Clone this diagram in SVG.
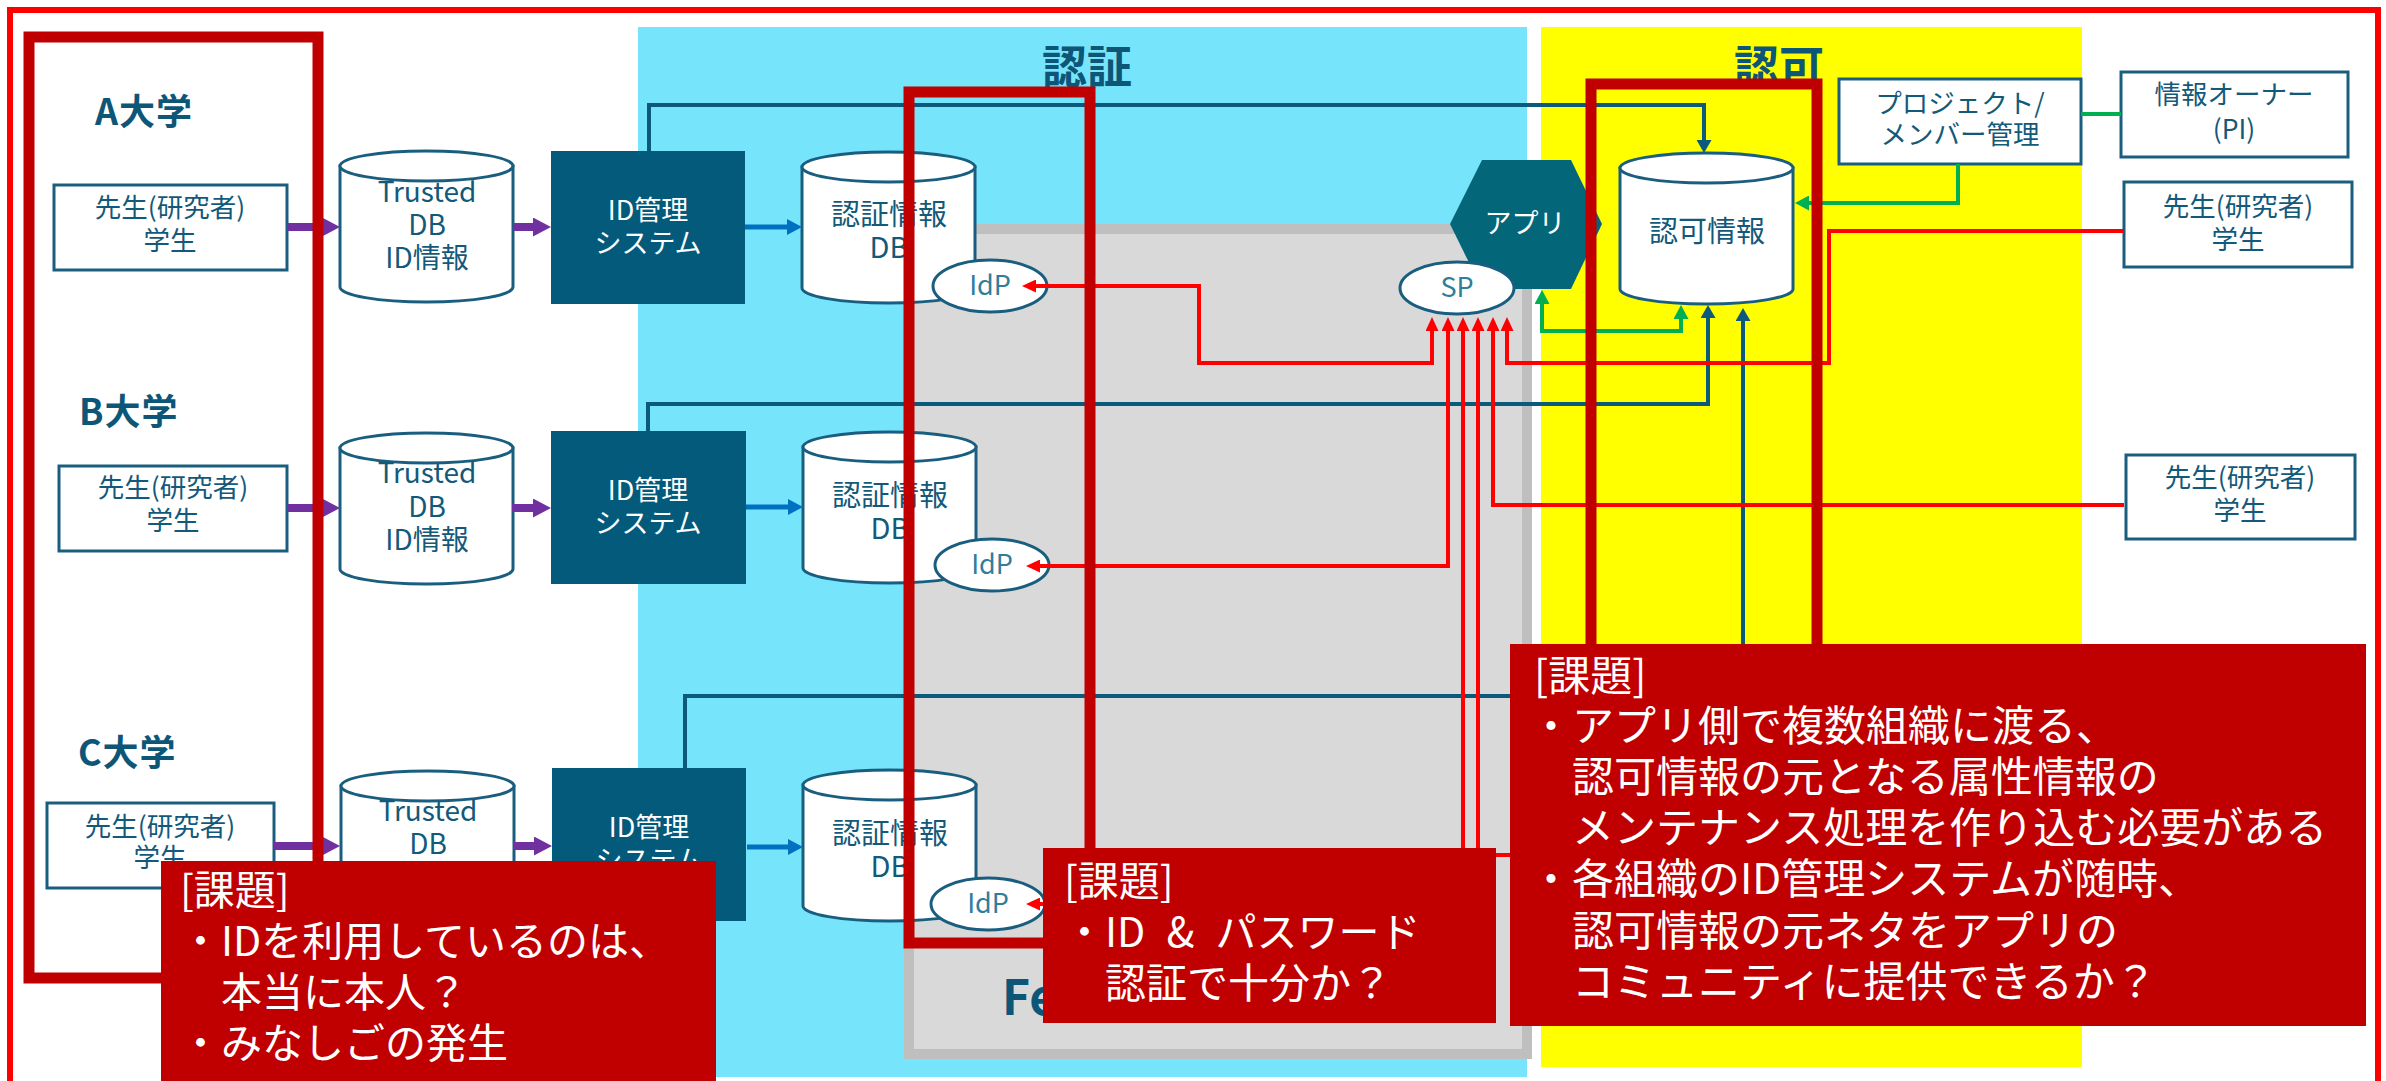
<svg xmlns="http://www.w3.org/2000/svg" width="2386" height="1081" viewBox="0 0 2386 1081">
<defs>
<style>
text{font-family:'Noto Sans CJK JP','Noto Sans',sans-serif}
.box{fill:#fff;stroke:#1a5e7f;stroke-width:3}
.cyl{fill:#fff;stroke:#1a5e7f;stroke-width:3}
.idb{fill:#035a7a}
.c{text-anchor:middle}
.tl{fill:#13597a;font-size:26.5px}
.tc{fill:#13597a;font-size:28px}
.ta{fill:#13597a;font-size:29px}
.tw{fill:#fff;font-size:27px}
.uni{fill:#0d5677;font-size:36px;font-weight:bold;letter-spacing:1px}
.ttl{fill:#0d5677;font-size:45px;font-weight:bold;text-anchor:middle}
.ell{fill:#fff;stroke:#1a5e7f;stroke-width:3}
.ep{fill:#307d9c;font-size:27px;text-anchor:middle}
.frame{fill:none;stroke:#c00000;stroke-width:11}
.issue{fill:#c00000}
.it{fill:#fff;font-size:41px}
.it2{fill:#fff;font-size:42px}
.pu{fill:none;stroke:#7030a0;stroke-width:8;marker-end:url(#mPu)}
.bl{fill:none;stroke:#0070c0;stroke-width:5;marker-end:url(#mBl)}
.db{fill:none;stroke:#0b5a7c;stroke-width:4;marker-end:url(#mDb)}
.gr{fill:none;stroke:#00b050;stroke-width:4}
.rd{fill:none;stroke:#ff0000;stroke-width:4;marker-end:url(#mRd)}
</style>
<marker id="mPu" markerUnits="userSpaceOnUse" markerWidth="18" markerHeight="19" refX="0" refY="9.5" orient="auto"><path d="M0,0 L18,9.5 L0,19 Z" fill="#7030a0"/></marker>
<marker id="mBl" markerUnits="userSpaceOnUse" markerWidth="15" markerHeight="16" refX="0" refY="8" orient="auto"><path d="M0,0 L15,8 L0,16 Z" fill="#0070c0"/></marker>
<marker id="mDb" markerUnits="userSpaceOnUse" markerWidth="13" markerHeight="15" refX="0" refY="7.5" orient="auto"><path d="M0,0 L13,7.5 L0,15 Z" fill="#0b5a7c"/></marker>
<marker id="mGr" markerUnits="userSpaceOnUse" markerWidth="14" markerHeight="15" refX="0" refY="7.5" orient="auto-start-reverse"><path d="M0,0 L14,7.5 L0,15 Z" fill="#00b050"/></marker>
<marker id="mRd" markerUnits="userSpaceOnUse" markerWidth="14" markerHeight="13" refX="0" refY="6.5" orient="auto-start-reverse"><path d="M0,0 L14,6.5 L0,13 Z" fill="#ff0000"/></marker>
<g id="cyl"><path class="cyl" d="M0,15 V136 A86.5,15 0 0 0 173,136 V15 Z"/><ellipse class="cyl" cx="86.5" cy="15" rx="86.5" ry="15"/></g>
</defs>

<!-- backgrounds -->
<g id="backgrounds">
<rect x="10" y="10" width="2368" height="1082" fill="#fff" stroke="#ff0000" stroke-width="6"/>
<rect x="638" y="27" width="889" height="1050" fill="#76e5fc"/>
<rect x="1541" y="27" width="541" height="1040" fill="#ffff00"/>
<rect x="909" y="229" width="618" height="825" fill="#d9d9d9" stroke="#bfbfbf" stroke-width="10"/>
<text x="1002" y="1015" fill="#0d5677" font-size="48" font-weight="bold">Fe</text>
<text class="ttl" x="1087" y="84">認証</text>
<text class="ttl" x="1779" y="84">認可</text>
</g>

<!-- A university -->
<g id="univA">
<text class="uni" x="95" y="125">A大学</text>
</g>
<g id="usersA">
<rect class="box" x="54" y="185" width="233" height="85"/>
<text class="tl c" x="170" y="217">先生(研究者)</text>
<text class="tl c" x="170" y="250">学生</text>
</g>
<g id="trustedA">
<use href="#cyl" x="340" y="151"/>
<text class="tc c" x="427" y="202">Trusted</text>
<text class="tc c" x="427" y="235">DB</text>
<text class="tc c" x="427" y="268">ID情報</text>
</g>
<g id="idmA">
<rect class="idb" x="551" y="151" width="194" height="153"/>
<text class="tw c" x="648" y="220">ID管理</text>
<text class="tw c" x="648" y="253">システム</text>
</g>
<g id="authA">
<use href="#cyl" x="802" y="152"/>
<text class="ta c" x="889" y="225">認証情報</text>
<text class="ta c" x="889" y="258">DB</text>
</g>
<g id="idpA">
<ellipse class="ell" cx="990" cy="286" rx="57" ry="26"/>
<text class="ep" x="990" y="295">IdP</text>
</g>

<!-- B university -->
<g id="univB">
<text class="uni" x="79" y="425">B大学</text>
</g>
<g id="usersB">
<rect class="box" x="59" y="466" width="228" height="85"/>
<text class="tl c" x="173" y="497">先生(研究者)</text>
<text class="tl c" x="173" y="530">学生</text>
</g>
<g id="trustedB">
<use href="#cyl" x="340" y="433"/>
<text class="tc c" x="427" y="483">Trusted</text>
<text class="tc c" x="427" y="517">DB</text>
<text class="tc c" x="427" y="550">ID情報</text>
</g>
<g id="idmB">
<rect class="idb" x="551" y="431" width="195" height="153"/>
<text class="tw c" x="648" y="500">ID管理</text>
<text class="tw c" x="648" y="533">システム</text>
</g>
<g id="authB">
<use href="#cyl" x="803" y="432"/>
<text class="ta c" x="890" y="506">認証情報</text>
<text class="ta c" x="890" y="539">DB</text>
</g>
<g id="idpB">
<ellipse class="ell" cx="992" cy="565" rx="57" ry="26"/>
<text class="ep" x="992" y="574">IdP</text>
</g>

<!-- C university -->
<g id="univC">
<text class="uni" x="78" y="766">C大学</text>
</g>
<g id="usersC">
<rect class="box" x="47" y="803" width="227" height="85"/>
<text class="tl c" x="160" y="836">先生(研究者)</text>
<text class="tl c" x="160" y="867">学生</text>
</g>
<g id="trustedC">
<use href="#cyl" x="341" y="771"/>
<text class="tc c" x="428" y="821">Trusted</text>
<text class="tc c" x="428" y="854">DB</text>
<text class="tc c" x="428" y="887">ID情報</text>
</g>
<g id="idmC">
<rect class="idb" x="552" y="768" width="194" height="153"/>
<text class="tw c" x="649" y="837">ID管理</text>
<text class="tw c" x="649" y="870">システム</text>
</g>
<g id="authC">
<use href="#cyl" x="803" y="770"/>
<text class="ta c" x="890" y="844">認証情報</text>
<text class="ta c" x="890" y="877">DB</text>
</g>
<g id="idpC">
<ellipse class="ell" cx="988" cy="904" rx="57" ry="26"/>
<text class="ep" x="988" y="913">IdP</text>
</g>

<!-- app side -->
<g id="app">
<polygon points="1450,224 1482,160 1571,160 1602,224 1571,289 1482,289" fill="#046679"/>
<text class="tw c" x="1525" y="233" font-size="26">アプリ</text>
</g>
<g id="sp">
<ellipse class="ell" cx="1457" cy="288" rx="57" ry="26"/>
<text class="ep" x="1457" y="297">SP</text>
</g>
<g id="authz">
<use href="#cyl" x="1620" y="153"/>
<text class="ta c" x="1707" y="242">認可情報</text>
</g>
<g id="project">
<rect class="box" x="1839" y="79" width="242" height="85"/>
<text class="tl c" x="1960" y="113" font-size="26">プロジェクト/</text>
<text class="tl c" x="1960" y="144" font-size="26">メンバー管理</text>
</g>
<g id="owner">
<rect class="box" x="2121" y="72" width="227" height="85"/>
<text class="tl c" x="2234" y="104" font-size="27.5">情報オーナー</text>
<text class="tl c" x="2234" y="139" font-size="27.5">(PI)</text>
</g>
<g id="usersR1">
<rect class="box" x="2124" y="182" width="228" height="85"/>
<text class="tl c" x="2238" y="216" font-size="27.5">先生(研究者)</text>
<text class="tl c" x="2238" y="249" font-size="27.5">学生</text>
</g>
<g id="usersR2">
<rect class="box" x="2126" y="455" width="229" height="84"/>
<text class="tl c" x="2240" y="487" font-size="27.5">先生(研究者)</text>
<text class="tl c" x="2240" y="520" font-size="27.5">学生</text>
</g>

<!-- connectors -->
<g id="connectors">
<path class="pu" d="M287,227 H322"/>
<path class="pu" d="M513,227 H533"/>
<path class="pu" d="M287,508 H322"/>
<path class="pu" d="M512,508 H533"/>
<path class="pu" d="M274,846 H322"/>
<path class="pu" d="M513,846 H534"/>
<path class="bl" d="M745,227 H787"/>
<path class="bl" d="M746,507 H788"/>
<path class="bl" d="M747,847 H788"/>
<path class="db" d="M649,151 V105 H1704 V140"/>
<path class="db" d="M648,431 V404 H1708 V318"/>
<path class="db" d="M685,768 V696 H1743 V321"/>
<path class="gr" d="M2081,114 H2121"/>
<path class="gr" d="M1958,164 V203 H1809" marker-end="url(#mGr)"/>
<path class="gr" d="M1542,304 V331 H1681 V319" marker-start="url(#mGr)" marker-end="url(#mGr)"/>
<path class="rd" d="M1036,286 H1199 V363 H1432 V331" marker-start="url(#mRd)"/>
<path class="rd" d="M1040,566 H1448 V331" marker-start="url(#mRd)"/>
<path class="rd" d="M1040,904 H1463 V331" marker-start="url(#mRd)"/>
<path class="rd" d="M2124,855 H1478 V331"/>
<path class="rd" d="M2124,505 H1493 V331"/>
<path class="rd" d="M2124,231 H1829 V363 H1507 V331"/>
</g>

<!-- highlight frames -->
<g id="frames">
<rect class="frame" x="29" y="37" width="289" height="941"/>
<rect class="frame" x="909" y="92" width="181" height="851"/>
<rect class="frame" x="1591" y="84" width="226" height="800"/>
</g>

<!-- issue boxes -->
<g id="issueLeft">
<rect class="issue" x="161" y="861" width="555" height="230"/>
<text class="it" x="180" y="905">[課題]</text>
<text class="it" x="180" y="956">・IDを利用しているのは、</text>
<text class="it" x="221" y="1007">本当に本人？</text>
<text class="it" x="180" y="1058">・みなしごの発生</text>
</g>
<g id="issueMiddle">
<rect class="issue" x="1043" y="848" width="453" height="175"/>
<text class="it" x="1064" y="896">[課題]</text>
<text class="it" x="1064" y="947" word-spacing="12">・ID &amp; パスワード</text>
<text class="it" x="1105" y="998">認証で十分か？</text>
</g>
<g id="issueRight">
<rect class="issue" x="1510" y="644" width="856" height="382"/>
<text class="it2" x="1534" y="691">[課題]</text>
<text class="it2" x="1530" y="741">・アプリ側で複数組織に渡る、</text>
<text class="it2" x="1572" y="792">認可情報の元となる属性情報の</text>
<text class="it2" x="1572" y="843">メンテナンス処理を作り込む必要がある</text>
<text class="it2" x="1530" y="894">・各組織のID管理システムが随時、</text>
<text class="it2" x="1572" y="946">認可情報の元ネタをアプリの</text>
<text class="it2" x="1572" y="997">コミュニティに提供できるか？</text>
</g>
</svg>
